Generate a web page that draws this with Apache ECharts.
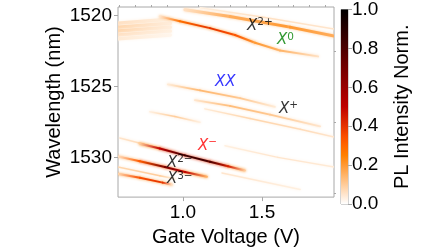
<!DOCTYPE html>
<html>
<head>
<meta charset="utf-8">
<script src="https://cdn.jsdelivr.net/npm/echarts@6/dist/echarts.min.js"></script>
<style>
  html, body { margin: 0; background: #fff; }
  #main { width: 448px; height: 252px; }
</style>
</head>
<body>
<div id="main"></div>
<script>
// axis ticks
var gateTicks = [1.0, 1.5];
var gateMinor = [0.6, 0.7, 0.8, 0.9, 1.1, 1.2, 1.3, 1.4, 1.6, 1.7, 1.8, 1.9];
var wlTicks = [1520, 1525, 1530];
var wlMinor = [1522.5, 1527.5, 1532.5];

// PL traces: [gate voltage (V), wavelength (nm), normalised intensity]
var bandTop1 = [[0.59, 1520.55, 0.06], [0.92, 1520.27, 0.03]];
var bandTop2 = [[0.59, 1520.82, 0.08], [0.92, 1520.55, 0.035]];
var bandTop3 = [[0.59, 1521.10, 0.08], [0.92, 1520.82, 0.035]];
var bandTop4 = [[0.59, 1521.37, 0.06], [0.92, 1521.10, 0.03]];
var bandTop5 = [[0.59, 1521.64, 0.04], [0.92, 1521.37, 0.02]];
var lineTopFaint = [[1.11, 1519.45, 0.03], [1.5, 1520.1, 0.06], [1.956, 1520.96, 0.05]];
var lineX2p = [[1.013, 1519.59, 0.06], [1.297, 1520.07, 0.16], [1.677, 1520.82, 0.2], [1.956, 1521.44, 0.16]];
var lineX0 = [[0.854, 1520.07, 0.05], [0.981, 1520.41, 0.28], [1.171, 1520.89, 0.4], [1.329, 1521.37, 0.34],
              [1.456, 1521.92, 0.2], [1.614, 1522.47, 0.15], [1.854, 1522.88, 0.06]];
var lineA = [[0.905, 1524.86, 0.04], [1.108, 1525.27, 0.14], [1.361, 1525.82, 0.11], [1.582, 1526.44, 0.04]];
var lineB = [[1.076, 1525.96, 0.05], [1.297, 1526.37, 0.13], [1.551, 1526.99, 0.11], [1.867, 1527.81, 0.05]];
var lineC = [[1.139, 1526.58, 0.04], [1.424, 1527.26, 0.08], [1.741, 1528.01, 0.07], [1.956, 1528.56, 0.05]];
var lineD = [[0.791, 1526.78, 0.03], [0.949, 1527.12, 0.1], [1.108, 1527.53, 0.03]];
var lineE = [[1.266, 1529.18, 0.03], [1.6, 1530.0, 0.05], [1.956, 1530.68, 0.04]];
var lineF = [[1.247, 1531.10, 0.05], [1.741, 1532.26, 0.03]];
var lineAboveXm = [[0.601, 1528.63, 0.05], [0.791, 1529.18, 0.08], [0.95, 1529.6, 0.03]];
var lineXm = [[0.728, 1529.04, 0.1], [0.854, 1529.38, 0.5], [1.013, 1529.86, 0.85], [1.171, 1530.31, 0.8],
              [1.285, 1530.62, 0.45], [1.392, 1530.92, 0.1]];
var lineX2m = [[0.589, 1529.93, 0.06], [0.728, 1530.27, 0.32], [0.886, 1530.68, 0.7], [1.013, 1531.03, 0.5],
               [1.152, 1531.37, 0.15]];
var lineMid = [[0.589, 1530.68, 0.08], [0.854, 1531.30, 0.1], [0.95, 1531.5, 0.03]];
var lineX3m = [[0.589, 1531.16, 0.08], [0.728, 1531.44, 0.35], [0.873, 1531.78, 0.4], [0.93, 1531.92, 0.06]];

// peak labels: [V, nm, base, superscript]
var peakLabels = [
  [1.405, 1520.75, 'X', '2+'],
  [1.595, 1521.75, 'X', '0'],
  [1.203, 1524.7, 'XX', ''],
  [1.608, 1526.6, 'X', '+'],
  [1.095, 1529.2, 'X', '\u2212'],
  [0.899, 1530.4, 'X', '2\u2212'],
  [0.899, 1531.55, 'X', '3\u2212']
];
var labelColors = ['#000', '#008000', '#0000ff', '#000', '#ff0000', '#000', '#000'];

var traces = [bandTop1, bandTop2, bandTop3, bandTop4, bandTop5, lineTopFaint, lineA, lineB, lineC, lineD,
              lineE, lineF, lineAboveXm, lineMid, lineX2p, lineX0, lineX3m, lineX2m, lineXm];
var traceWidths = [3.5, 3.5, 3.5, 3.5, 3.5, 1.5, 1.8, 1.8, 1.5, 1.5, 1.5, 1.5, 1.5, 1.5, 3, 2, 2, 2, 2];

// matplotlib gist_heat_r
function heat(v) {
  var x = 1 - v;
  var c = function (t) { return Math.round(Math.max(0, Math.min(1, t)) * 255); };
  return 'rgb(' + c(1.5 * x) + ',' + c(2 * x - 1) + ',' + c(4 * x - 3) + ')';
}

var segs = [];
traces.forEach(function (tr, k) {
  for (var i = 0; i < tr.length - 1; i++) {
    segs.push([tr[i][0], tr[i][1], tr[i + 1][0], tr[i + 1][1], tr[i][2], tr[i + 1][2], k]);
  }
});

var cbStops = [];
for (var s = 0; s <= 20; s++) cbStops.push({ offset: s / 20, color: heat(s / 20) });

var grey = '#a8a8a8';
var font = 'Liberation Sans, Arial, sans-serif';
var mathFont = 'DejaVu Sans, sans-serif';

var labelData = peakLabels.map(function (p, i) {
  var txt = '{m|' + p[2] + '}' + (p[3] ? '{s|' + p[3] + '}' : '');
  return {
    value: [p[0], p[1]],
    label: {
      formatter: txt,
      rich: {
        m: { fontFamily: mathFont, fontStyle: 'italic', fontSize: 15, lineHeight: 18, color: labelColors[i] },
        s: { fontFamily: mathFont, fontSize: 10.5, lineHeight: 11, verticalAlign: 'top', color: labelColors[i] }
      }
    }
  };
});

var chart = echarts.init(document.getElementById('main'));
chart.setOption({
  animation: false,
  backgroundColor: '#fff',
  grid: [
    { left: 118, top: 7, width: 216, height: 196, show: true, borderColor: grey, borderWidth: 1, backgroundColor: '#fff' },
    { left: 341, top: 7, width: 7, height: 197, show: true, borderColor: grey, borderWidth: 1 }
  ],
  xAxis: [{
    gridIndex: 0, type: 'value', min: 0.59, max: 1.955,
    axisLine: { show: false },
    axisTick: { show: true, length: 4, lineStyle: { color: grey }, customValues: gateTicks },
    axisLabel: { customValues: gateTicks, formatter: function (v) { return v.toFixed(1); },
                 fontFamily: font, fontSize: 19, color: '#000', margin: 6 },
    splitLine: { show: false },
    name: 'Gate Voltage (V)', nameLocation: 'middle', nameGap: 29,
    nameTextStyle: { fontFamily: font, fontSize: 20, color: '#000' }
  }, {
    gridIndex: 0, type: 'value', min: 0.59, max: 1.955,
    axisLine: { show: false },
    axisTick: { show: true, length: 2, lineStyle: { color: grey }, customValues: gateMinor },
    axisLabel: { show: false }, splitLine: { show: false }
  }, {
    gridIndex: 1, type: 'category', data: ['cb'], show: false
  }],
  yAxis: [{
    gridIndex: 0, type: 'value', inverse: true, min: 1519.4, max: 1532.8,
    axisLine: { show: false },
    axisTick: { show: true, length: 4, lineStyle: { color: grey }, customValues: wlTicks },
    axisLabel: { customValues: wlTicks, formatter: function (v) { return String(v); },
                 fontFamily: font, fontSize: 19, color: '#000', margin: 6 },
    splitLine: { show: false },
    name: 'Wavelength (nm)', nameLocation: 'middle', nameGap: 54, nameRotate: 90,
    nameTextStyle: { fontFamily: font, fontSize: 20, color: '#000' }
  }, {
    gridIndex: 0, type: 'value', inverse: true, min: 1519.4, max: 1532.8,
    axisLine: { show: false },
    axisTick: { show: true, length: 2, lineStyle: { color: grey }, customValues: wlMinor },
    axisLabel: { show: false }, splitLine: { show: false }
  }, {
    gridIndex: 1, type: 'value', min: 0, max: 1, interval: 0.2, position: 'right',
    axisLine: { show: false },
    axisTick: { show: true, length: 4, lineStyle: { color: grey } },
    axisLabel: { formatter: function (v) { return v.toFixed(1); }, fontFamily: font, fontSize: 19, color: '#000', margin: 4 },
    splitLine: { show: false },
    name: 'PL Intensity Norm.', nameLocation: 'middle', nameGap: 44, nameRotate: 90,
    nameTextStyle: { fontFamily: font, fontSize: 20, color: '#000' }
  }],
  series: [{
    type: 'custom',
    xAxisIndex: 0, yAxisIndex: 0,
    clip: true,
    data: segs,
    renderItem: function (params, api) {
      var p1 = api.coord([api.value(0), api.value(1)]);
      var p2 = api.coord([api.value(2), api.value(3)]);
      var c1 = heat(api.value(4)), c2 = heat(api.value(5));
      return {
        type: 'line',
        shape: { x1: p1[0], y1: p1[1], x2: p2[0], y2: p2[1] },
        style: {
          stroke: new echarts.graphic.LinearGradient(p1[0], p1[1], p2[0], p2[1],
            [{ offset: 0, color: c1 }, { offset: 1, color: c2 }], true),
          lineWidth: traceWidths[api.value(6)],
          lineCap: 'round',
          shadowBlur: 3,
          shadowColor: heat(Math.max(api.value(4), api.value(5)) * 0.5)
        }
      };
    }
  }, {
    type: 'scatter',
    xAxisIndex: 0, yAxisIndex: 0,
    symbolSize: 0,
    data: labelData,
    label: { show: true, position: 'right', distance: 0 },
    z: 5
  }, {
    type: 'bar',
    xAxisIndex: 2, yAxisIndex: 2,
    data: [1],
    barWidth: '100%',
    itemStyle: { color: new echarts.graphic.LinearGradient(0, 1, 0, 0, cbStops) }
  }]
});
</script>
</body>
</html>
